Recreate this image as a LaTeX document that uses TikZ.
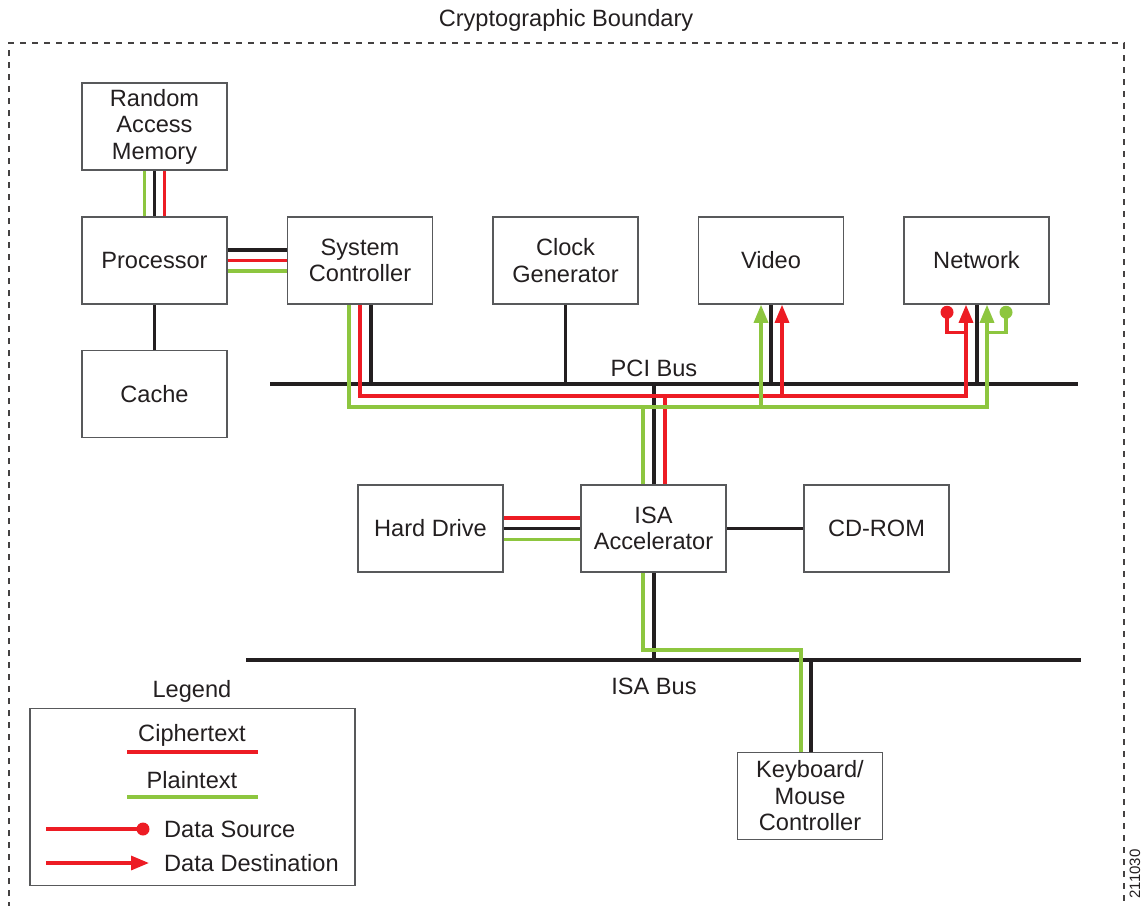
\documentclass[tikz,border=0pt]{standalone}
\usepackage{fontspec}
\setmainfont{Liberation Sans}
\usetikzlibrary{arrows.meta,calc}
\definecolor{cred}{HTML}{ED1C24}
\definecolor{cgrn}{HTML}{8DC63F}
\definecolor{cblk}{HTML}{231F20}
\definecolor{cbox}{HTML}{58595B}
\tikzset{
  box/.style={draw=cbox, line width=1.5pt, minimum width=145pt, minimum height=87pt,
    align=center, inner sep=0pt, text=cblk, font=\fontsize{23.6}{26.5}\selectfont},
  lbl/.style={text=cblk, inner sep=0pt, font=\fontsize{23.6}{26.5}\selectfont},
  wire/.style={line width=3.2pt},
  rw/.style={wire, draw=cred},
  gw/.style={wire, draw=cgrn},
  bw/.style={wire, draw=cblk},
  arr/.style={-{Triangle[length=18pt,width=14pt]}},
  bound/.style={draw=cblk!85, line width=1.4pt, dash pattern=on 6pt off 6pt}
}
\begin{document}
\begin{tikzpicture}[x=1pt,y=-1pt]
\useasboundingbox (0,0) rectangle (1145,905);
% boundary
\draw[bound] (9,920) -- (9,43) -- (1124,43) -- (1124,920);
\node[lbl] (title) at (566,20) {Cryptographic Boundary};
% boxes
\node[box] (ram) at (154.5,126.5) {Random\\Access\\Memory};
\node[box] (proc) at (154.5,260.5) {Processor};
\node[box] (cache) at (154.5,394) {Cache};
\node[box] (sys) at (360,260.5) {System\\Controller};
\node[box] (clk) at (565.5,260.5) {Clock\\Generator};
\node[box] (video) at (771,260.5) {Video};
\node[box] (net) at (976.5,260.5) {Network};
\node[box] (isa) at (653.5,528.5) {ISA\\Accelerator};
\node[box] (hd) at (430.5,528.5) {Hard Drive};
\node[box] (cd) at (876.5,528.5) {CD-ROM};
\node[box] (kb) at (810,796) {Keyboard/\\Mouse\\Controller};
% buses
\coordinate (pciL) at (270,384);
\coordinate (pciR) at (1078,384);
\coordinate (isabL) at (246,660);
\coordinate (isabR) at (1081,660);
\coordinate (rY) at (0,396);
\coordinate (gY) at (0,407);
\draw[bw] (pciL) -- (pciR);
\draw[bw] (isabL) -- (isabR);
\node[lbl] (pcilbl) at (654,368) {PCI Bus};
\node[lbl] (isalbl) at (654,686) {ISA Bus};
% attachment points
\coordinate (sysG) at ($(sys.south)+(-11,0)$);
\coordinate (sysR) at (sys.south);
\coordinate (sysK) at ($(sys.south)+(11,0)$);
\coordinate (vidG) at ($(video.south)+(-10,0)$);
\coordinate (vidK) at (video.south);
\coordinate (vidR) at ($(video.south)+(11,0)$);
\coordinate (netR) at ($(net.south)+(-10.5,0)$);
\coordinate (netK) at ($(net.south)+(0.5,0)$);
\coordinate (netG) at ($(net.south)+(10.5,0)$);
\coordinate (isaG) at ($(isa.north)+(-10.5,0)$);
\coordinate (isaK) at ($(isa.north)+(0.5,0)$);
\coordinate (isaR) at ($(isa.north)+(11.5,0)$);
\coordinate (isaSG) at ($(isa.south)+(-10.5,0)$);
\coordinate (isaSK) at ($(isa.south)+(0.5,0)$);
\coordinate (kbG) at ($(kb.north)+(-9,0)$);
\coordinate (kbK) at ($(kb.north)+(1,0)$);
\coordinate (gjog) at (0,650);
% RAM - Processor
\draw[gw] ($(ram.south)+(-10,0)$) -- ($(proc.north)+(-10,0)$);
\draw[bw] (ram.south) -- (proc.north);
\draw[rw] ($(ram.south)+(10,0)$) -- ($(proc.north)+(10,0)$);
% Processor - Cache
\draw[bw] (proc.south) -- (cache.north);
% Processor - System Controller
\draw[bw] ($(proc.east)+(0,-10.5)$) -- ($(sys.west)+(0,-10.5)$);
\draw[rw] (proc.east) -- (sys.west);
\draw[gw] ($(proc.east)+(0,10.5)$) -- ($(sys.west)+(0,10.5)$);
% black drops to PCI bus
\draw[bw] (sysK) -- (sysK |- pciL);
\draw[bw] (clk.south) -- (clk.south |- pciL);
\draw[bw] (vidK) -- (vidK |- pciL);
\draw[bw] (netK) -- (netK |- pciL);
\draw[bw] (isaK) -- (isaK |- pciL);
% red ciphertext path
\draw[rw,arr] (sysR) -- (sysR |- rY) -- (netR |- rY) -- (netR);
\draw[rw,arr] (vidR |- rY) -- (vidR);
\draw[rw] (isaR) -- (isaR |- rY);
\coordinate (rdot) at ($(net.south)+(-29.5,7.5)$);
\coordinate (rjoin) at ($(net.south)+(-10.5,27.5)$);
\draw[rw] (rdot) -- (rdot |- rjoin) -- (rjoin);
\fill[cred] (rdot) circle (6.5);
% green plaintext path
\draw[gw,arr] (sysG) -- (sysG |- gY) -- (netG |- gY) -- (netG);
\draw[gw,arr] (vidG |- gY) -- (vidG);
\draw[gw] (isaG) -- (isaG |- gY);
\coordinate (gdot) at ($(net.south)+(29.5,7.5)$);
\coordinate (gjoin) at ($(net.south)+(10.5,27.5)$);
\draw[gw] (gdot) -- (gdot |- gjoin) -- (gjoin);
\fill[cgrn] (gdot) circle (6.5);
% Hard drive - ISA
\draw[rw] ($(hd.east)+(0,-10.5)$) -- ($(isa.west)+(0,-10.5)$);
\draw[bw] (hd.east) -- (isa.west);
\draw[gw] ($(hd.east)+(0,11)$) -- ($(isa.west)+(0,11)$);
% ISA - CD-ROM
\draw[bw] (isa.east) -- (cd.west);
% ISA to ISA bus and keyboard
\draw[bw] (isaSK) -- (isaSK |- isabL);
\draw[gw] (isaSG) -- (isaSG |- gjog) -- (kbG |- gjog) -- (kbG);
\draw[bw] (kbK |- isabL) -- (kbK);
% legend
\node[lbl] (leglbl) at (192,691) {Legend};
\node[draw=cbox, line width=1.5pt, minimum width=325pt, minimum height=177pt, inner sep=0pt] (leg) at (192.5,797) {};
\node[lbl] (ciph) at (192,735) {Ciphertext};
\coordinate (c1) at (127,752); \coordinate (c2) at (258,752);
\draw[rw] (c1) -- (c2);
\node[lbl] (plain) at (192,780) {Plaintext};
\coordinate (p1) at (127,797); \coordinate (p2) at (258,797);
\draw[gw] (p1) -- (p2);
\coordinate (s1) at (46,829); \coordinate (s2) at (143,829);
\draw[rw] (s1) -- (s2);
\fill[cred] (s2) circle (6.5);
\node[lbl, anchor=west] (dsrc) at (164,829) {Data Source};
\coordinate (d1) at (46,863); \coordinate (d2) at (149,863);
\draw[rw,arr] (d1) -- (d2);
\node[lbl, anchor=west] (ddst) at (164,863) {Data Destination};
% figure number
\node[text=cblk, inner sep=0pt, rotate=90, font=\fontsize{15}{15}\selectfont] (fignum) at (1135,874) {211030};
\end{tikzpicture}
\end{document}
